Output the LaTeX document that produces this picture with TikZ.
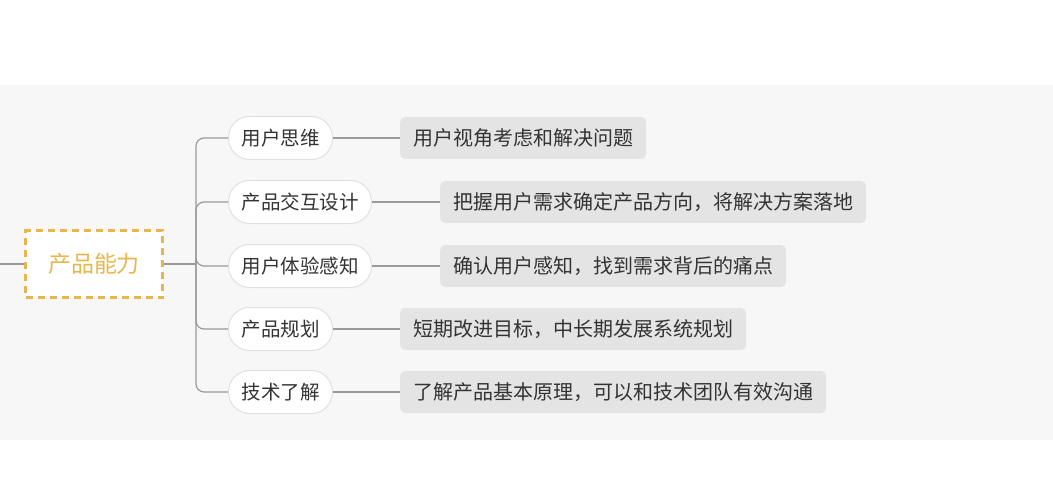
\documentclass[tikz,border=0pt]{standalone}
\usepackage{fontspec}
\setmainfont{Noto Sans CJK SC}
\usetikzlibrary{positioning}
\definecolor{bandgray}{HTML}{F7F7F7}
\definecolor{rootorange}{HTML}{E8B64E}
\definecolor{descgray}{HTML}{E4E4E4}
\definecolor{linegray}{HTML}{9A9A9A}
\definecolor{textgray}{HTML}{333333}

\begin{document}
\begin{tikzpicture}[x=1pt,y=-1pt,
	root/.style={rectangle, draw=rootorange, dashed, line width=2.2pt, dash pattern=on 7pt off 5pt, fill=white, minimum width=137pt, minimum height=67pt, text=rootorange, font=\fontsize{23}{26}\selectfont},
	topic/.style={rectangle, rounded corners=21pt, draw=black!12, line width=1pt, fill=white, minimum height=43pt, inner xsep=13pt, text=textgray, font=\fontsize{19.5}{22}\selectfont, anchor=west},
	desc/.style={rectangle, rounded corners=5pt, fill=descgray, minimum height=42pt, inner xsep=13pt, text=textgray, font=\fontsize{20}{22}\selectfont, anchor=west},
	tlink/.style={linegray, line width=1.2pt}]

		%background
		\useasboundingbox (0,0) rectangle (1053,500);
		\fill[bandgray] (0,85) rectangle (1053,440);
		%root
		\node[root] at (94,264) (root) {产品能力};
		\coordinate (in) at (0,264);
		\draw[tlink] (in) -- (root.west);
		%topics
		\node[topic] at (228,138) (t1) {用户思维};
		\node[topic] at (228,202) (t2) {产品交互设计};
		\node[topic] at (228,266) (t3) {用户体验感知};
		\node[topic] at (228,329) (t4) {产品规划};
		\node[topic] at (228,392) (t5) {技术了解};
		%descriptions
		\node[desc] at (400,138) (d1) {用户视角考虑和解决问题};
		\node[desc] at (440,202) (d2) {把握用户需求确定产品方向，将解决方案落地};
		\node[desc] at (440,266) (d3) {确认用户感知，找到需求背后的痛点};
		\node[desc] at (400,329) (d4) {短期改进目标，中长期发展系统规划};
		\node[desc] at (400,392) (d5) {了解产品基本原理，可以和技术团队有效沟通};
		\coordinate (trunk) at (196,264);
		\draw[tlink] (root.east) -- (trunk);
		\foreach \i in {1,...,5} {
			\draw[tlink, rounded corners=8pt] (trunk) |- (t\i.west);
			\draw[tlink] (t\i.east) -- (d\i.west);
		}
	\end{tikzpicture}
\end{document}
